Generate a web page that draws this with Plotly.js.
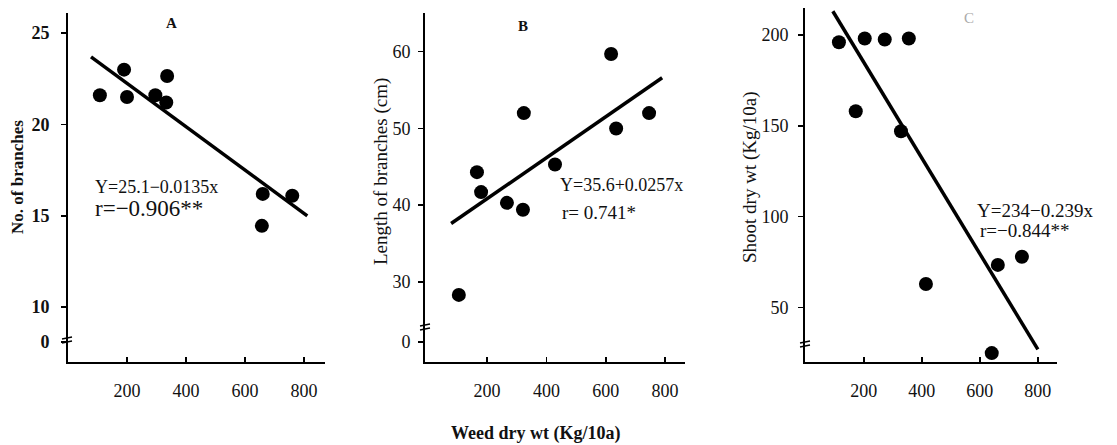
<!DOCTYPE html>
<html>
<head>
<meta charset="utf-8">
<script src="https://cdn.plot.ly/plotly-3.0.1.min.js"></script>
<style>html,body{margin:0;padding:0;background:#fff;}#chart{width:1117px;height:445px;}</style>
</head>
<body>
<div id="chart"></div>
<script>
// ---- data ----
const aWeed = [108, 190, 200, 296, 336, 333, 660, 760, 657];
const aBranches = [21.6, 23.0, 21.5, 21.6, 22.65, 21.2, 16.2, 16.1, 14.45];
const aFitX = [78, 811];
const aFitY = [23.7, 15.0];

const bWeed = [166, 180, 267, 321, 324, 429, 618, 635, 746, 105];
const bLength = [44.3, 41.7, 40.3, 39.4, 52.0, 45.3, 59.7, 50.0, 52.0, 28.3];
const bFitX = [79, 790];
const bFitY = [37.6, 56.6];

const cWeed = [114, 203, 272, 355, 172, 328, 414, 662, 745, 641];
const cShoot = [196, 198, 197.5, 198, 158, 147, 63, 73.5, 78, 25];
const cFitX = [93, 800];
const cFitY = [213, 27];

const xTickVals = [200, 400, 600, 800];
const xTickText = ["200", "400", "600", "800"];
const aTickVals = [8.1, 10, 15, 20, 25];
const aTickText = ["0", "10", "15", "20", "25"];
const bTickVals = [22.15, 30, 40, 50, 60];
const bTickText = ["0", "30", "40", "50", "60"];
const cTickVals = [50, 100, 150, 200];
const cTickText = ["50", "100", "150", "200"];

const panelLetters = ["A", "B", "C"];
const eqA = ["Y=25.1\u22120.0135x", "r=\u22120.906**"];
const eqB = ["Y=35.6+0.0257x", "r= 0.741*"];
const eqC = ["Y=234\u22120.239x", "r=\u22120.844**"];
const yTitles = ["No. of branches", "Length of branches (cm)", "Shoot dry wt (Kg/10a)"];
const xTitle = "Weed dry wt (Kg/10a)";

// ---- helpers (pixel -> paper) ----
const W = 1117, H = 445;
const px = x => x / W;
const py = y => 1 - y / H;
const SERIF = "Liberation Serif, Times New Roman, serif";

const marker = {size: 14, color: "#000"};
const fitLine = {color: "#000", width: 3.5};

const traces = [
  {x: aWeed, y: aBranches, mode: "markers", marker: marker, xaxis: "x", yaxis: "y", hoverinfo: "x+y"},
  {x: aFitX, y: aFitY, mode: "lines", line: fitLine, xaxis: "x", yaxis: "y"},
  {x: bWeed, y: bLength, mode: "markers", marker: marker, xaxis: "x2", yaxis: "y2"},
  {x: bFitX, y: bFitY, mode: "lines", line: fitLine, xaxis: "x2", yaxis: "y2"},
  {x: cWeed, y: cShoot, mode: "markers", marker: marker, xaxis: "x3", yaxis: "y3"},
  {x: cFitX, y: cFitY, mode: "lines", line: fitLine, xaxis: "x3", yaxis: "y3"}
];

function xAxis(domain, range, anchor) {
  return {
    domain: domain, range: range, anchor: anchor,
    showline: true, linecolor: "#000", linewidth: 1.8,
    showgrid: false, zeroline: false,
    ticks: "inside", ticklen: 5, tickwidth: 1.5, tickcolor: "#000",
    tickvals: xTickVals, ticktext: xTickText,
    tickfont: {family: SERIF, size: 18, color: "#111"},
    ticklabelstandoff: 12, fixedrange: true
  };
}
function yAxis(domain, range, anchor, vals, text, bold, standoff) {
  return {
    domain: domain, range: range, anchor: anchor,
    showline: true, linecolor: "#000", linewidth: 1.8,
    showgrid: false, zeroline: false,
    ticks: "outside", ticklen: 5, tickwidth: 1.5, tickcolor: "#000",
    tickvals: vals, ticktext: text,
    tickfont: {family: SERIF, size: 18, color: "#111", weight: bold ? "bold" : "normal"},
    ticklabelstandoff: standoff, fixedrange: true
  };
}

function breakMarks(x, y) {
  return [
    {type: "line", xref: "paper", yref: "paper", x0: px(x - 5), y0: py(y + 1), x1: px(x + 5), y1: py(y - 1), line: {color: "#000", width: 1.5}},
    {type: "line", xref: "paper", yref: "paper", x0: px(x - 5), y0: py(y + 5), x1: px(x + 5), y1: py(y + 3), line: {color: "#000", width: 1.5}}
  ];
}

function note(text, x, y, size, opts) {
  return Object.assign({
    text: text, xref: "paper", yref: "paper", x: px(x), y: py(y),
    xanchor: "left", yanchor: "middle", showarrow: false,
    font: {family: SERIF, size: size, color: "#111"}
  }, opts || {});
}

const annotations = [
  note(panelLetters[0], 171, 23, 15, {xanchor: "center", font: {family: SERIF, size: 15, color: "#111", weight: "bold"}}),
  note(panelLetters[1], 523, 26, 15, {xanchor: "center", font: {family: SERIF, size: 15, color: "#111", weight: "bold"}}),
  note(panelLetters[2], 969, 18, 15, {xanchor: "center", font: {family: SERIF, size: 15, color: "#aaa"}}),
  note(eqA[0], 93, 187, 18),
  note(eqA[1], 93, 209, 23),
  note(eqB[0], 558, 185, 18),
  note(eqB[1], 560, 212, 19),
  note(eqC[0], 975, 210, 19),
  note(eqC[1], 978, 230, 19),
  note(yTitles[0], 17, 177, 17, {xanchor: "center", textangle: -90, font: {family: SERIF, size: 17, color: "#111", weight: "bold"}}),
  note(yTitles[1], 381, 172, 19, {xanchor: "center", textangle: -90}),
  note(yTitles[2], 750, 177, 19, {xanchor: "center", textangle: -90}),
  note(xTitle, 535, 433, 18, {xanchor: "center", font: {family: SERIF, size: 18, color: "#111", weight: "bold"}})
];

const layout = {
  width: W, height: H,
  margin: {l: 0, r: 0, t: 0, b: 0, pad: 0},
  paper_bgcolor: "#fff", plot_bgcolor: "#fff",
  showlegend: false,
  font: {family: SERIF, color: "#111"},
  xaxis: xAxis([px(68), px(325)], [0, 871], "y"),
  xaxis2: xAxis([px(425), px(685)], [-9, 867], "y2"),
  xaxis3: xAxis([px(805), px(1057)], [-3, 866], "y3"),
  yaxis: yAxis([py(362), py(13)], [7.0, 26.1], "x", aTickVals, aTickText, true, 8),
  yaxis2: yAxis([py(362), py(13)], [19.55, 65.05], "x2", bTickVals, bTickText, false, 4),
  yaxis3: yAxis([py(362), py(8)], [20.1, 214.8], "x3", cTickVals, cTickText, false, 6),
  shapes: [].concat(breakMarks(67, 338), breakMarks(425, 325), breakMarks(805, 342)),
  annotations: annotations
};

Plotly.newPlot("chart", traces, layout, {displayModeBar: false, staticPlot: true});
</script>
</body>
</html>
